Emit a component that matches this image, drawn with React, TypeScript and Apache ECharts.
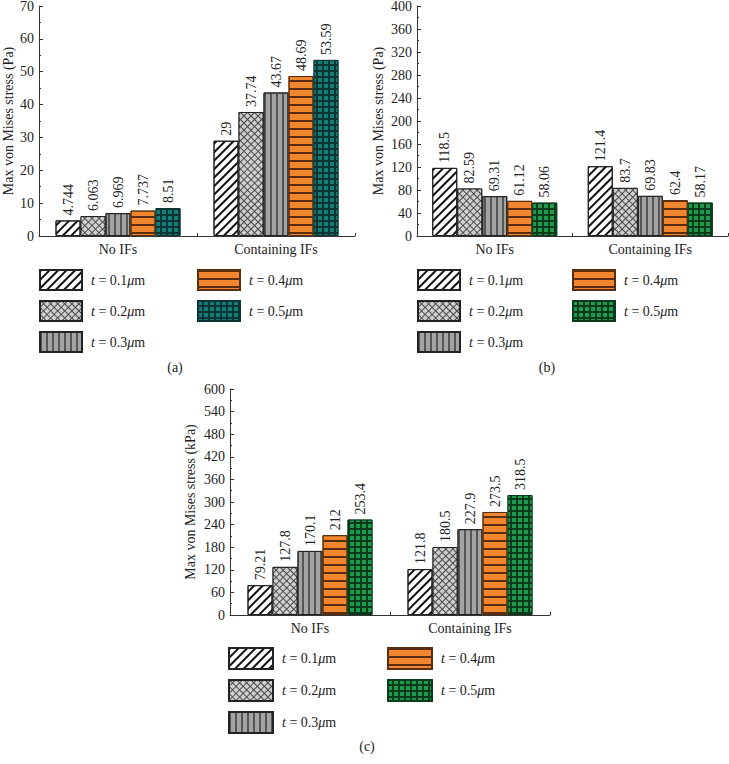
import React, { useEffect, useRef } from "react";
import * as echarts from "echarts";

const categories = ["No IFs", "Containing IFs"];
const thicknesses = ["0.1", "0.2", "0.3", "0.4", "0.5"];

const aNoIFs = [4.744, 6.063, 6.969, 7.737, 8.51];
const aContaining = [29, 37.74, 43.67, 48.69, 53.59];
const bNoIFs = [118.5, 82.59, 69.31, 61.12, 58.06];
const bContaining = [121.4, 83.7, 69.83, 62.4, 58.17];
const cNoIFs = [79.21, 127.8, 170.1, 212, 253.4];
const cContaining = [121.8, 180.5, 227.9, 273.5, 318.5];

const aTicks = { min: 0, max: 70, interval: 10 };
const bTicks = { min: 0, max: 400, interval: 40 };
const cTicks = { min: 0, max: 600, interval: 60 };

const FONT = "Liberation Serif";

function styleFor(i: number, gridColor: string, gridLine: string) {
  const common = { borderColor: "#222", borderWidth: 1 };
  if (i === 0)
    return {
      ...common,
      color: "#ffffff",
      decal: {
        symbol: "rect",
        symbolSize: 1,
        color: "#111",
        dashArrayX: [1, 0],
        dashArrayY: [1.1, 3.1],
        rotation: -Math.PI / 4,
      },
    };
  if (i === 1)
    return {
      ...common,
      color: "#4a4a4a",
      decal: {
        symbol: "rect",
        symbolSize: 1,
        color: "#cfcfcf",
        dashArrayX: [3.2, 1],
        dashArrayY: [3.2, 1],
        rotation: Math.PI / 4,
      },
    };
  if (i === 2)
    return {
      ...common,
      color: "#a3a3a3",
      decal: {
        symbol: "rect",
        symbolSize: 1,
        color: "#555",
        dashArrayX: [1.2, 3.4],
        dashArrayY: [1, 0],
        rotation: 0,
      },
    };
  if (i === 3)
    return {
      borderColor: "#5a2e0c",
      borderWidth: 1,
      color: "#f0862e",
      decal: {
        symbol: "rect",
        symbolSize: 1,
        color: "#5a2e0c",
        dashArrayX: [1, 0],
        dashArrayY: [1.2, 5.6],
        rotation: 0,
      },
    };
  return {
    borderColor: gridLine,
    borderWidth: 1,
    color: gridLine,
    decal: {
      symbol: "rect",
      symbolSize: 1,
      color: gridColor,
      dashArrayX: [3.6, 1.1],
      dashArrayY: [3.6, 1.1],
      rotation: 0,
    },
  };
}

type Cfg = {
  noIFs: number[];
  containing: number[];
  ticks: { min: number; max: number; interval: number };
  yName: string;
  grid: { left: number; top: number; width: number; height: number };
  nameGap: number;
  legendLeft: [number, number];
  legendTop: number;
  legendW: number;
  legendH: number;
  caption: string;
  captionX: number;
  captionY: number;
  gridColor: string;
  gridLine: string;
};

function makeOption(c: Cfg) {
  const textStyle = { fontFamily: FONT, fontSize: 14, color: "#222" };
  const legendCommon = {
    orient: "vertical",
    top: c.legendTop,
    padding: 0,
    itemWidth: c.legendW,
    itemHeight: c.legendH,
    itemGap: 9,
    icon: "rect",
    formatter: (n: string) => `{i|t} = ${n}{i|\u03bc}m`,
    textStyle: {
      ...textStyle,
      padding: [0, 0, 0, 4],
      rich: {
        i: { fontStyle: "italic", fontFamily: FONT, fontSize: 14, color: "#222" },
      },
    },
  };
  return {
    animation: false,
    aria: { enabled: false },
    textStyle: { fontFamily: FONT },
    grid: { ...c.grid, containLabel: false, outerBoundsMode: "none" },
    legend: [
      { ...legendCommon, left: c.legendLeft[0], data: thicknesses.slice(0, 3) },
      { ...legendCommon, left: c.legendLeft[1], data: thicknesses.slice(3) },
    ],
    xAxis: {
      type: "category",
      data: categories,
      axisLine: { lineStyle: { color: "#333", width: 1 } },
      axisTick: { show: true, inside: true, length: 3, lineStyle: { color: "#333" } },
      axisLabel: { ...textStyle, fontSize: 14, margin: 6 },
    },
    yAxis: {
      type: "value",
      min: c.ticks.min,
      max: c.ticks.max,
      interval: c.ticks.interval,
      name: c.yName,
      nameLocation: "middle",
      nameGap: c.nameGap,
      nameMoveOverlap: false,
      nameTextStyle: { ...textStyle, fontSize: 14 },
      axisLine: { show: true, lineStyle: { color: "#333", width: 1 } },
      axisTick: { show: true, inside: true, length: 4, lineStyle: { color: "#333" } },
      minorTick: { show: true, splitNumber: 2, length: 2, lineStyle: { color: "#333" } },
      splitLine: { show: false },
      axisLabel: { ...textStyle, fontSize: 14, margin: 5 },
    },
    series: thicknesses.map((t, i) => ({
      type: "bar",
      name: t,
      data: [c.noIFs[i], c.containing[i]],
      barWidth: 25,
      barGap: "0%",
      itemStyle: styleFor(i, c.gridColor, c.gridLine),
      label: {
        show: true,
        position: "top",
        rotate: 90,
        align: "left",
        verticalAlign: "middle",
        distance: 5,
        fontFamily: FONT,
        fontSize: 14,
        color: "#222",
      },
    })),
    graphic: [
      {
        type: "text",
        x: c.captionX,
        y: c.captionY,
        style: {
          text: c.caption,
          fontFamily: FONT,
          fontSize: 14,
          fill: "#222",
          align: "center",
          verticalAlign: "middle",
        },
      },
    ],
  };
}

const cfgA: Cfg = {
  noIFs: aNoIFs,
  containing: aContaining,
  ticks: aTicks,
  yName: "Max von Mises stress (Pa)",
  grid: { left: 39, top: 6, width: 316, height: 230 },
  nameGap: 24,
  legendLeft: [39, 197],
  legendTop: 269,
  legendW: 42,
  legendH: 20,
  caption: "(a)",
  captionX: 175,
  captionY: 367,
  gridColor: "#127d79",
  gridLine: "#0b3432",
};

const cfgB: Cfg = {
  noIFs: bNoIFs,
  containing: bContaining,
  ticks: bTicks,
  yName: "Max von Mises stress (Pa)",
  grid: { left: 53, top: 6, width: 311, height: 230 },
  nameGap: 32,
  legendLeft: [53, 208],
  legendTop: 269,
  legendW: 42,
  legendH: 20,
  caption: "(b)",
  captionX: 183,
  captionY: 367,
  gridColor: "#1e9a4c",
  gridLine: "#0b3a1c",
};

const cfgC: Cfg = {
  noIFs: cNoIFs,
  containing: cContaining,
  ticks: cTicks,
  yName: "Max von Mises stress (kPa)",
  grid: { left: 60, top: 9, width: 320, height: 226 },
  nameGap: 33,
  legendLeft: [58, 217],
  legendTop: 267,
  legendW: 44,
  legendH: 21,
  caption: "(c)",
  captionX: 197,
  captionY: 366,
  gridColor: "#1e9a4c",
  gridLine: "#0b3a1c",
};

function Chart({ cfg, style }: { cfg: Cfg; style: React.CSSProperties }) {
  const ref = useRef<HTMLDivElement>(null);
  useEffect(() => {
    if (!ref.current) return;
    const chart = echarts.init(ref.current, null, { renderer: "svg" });
    chart.setOption(makeOption(cfg) as any);
    return () => chart.dispose();
  }, [cfg]);
  return <div ref={ref} style={{ position: "absolute", ...style }} />;
}

export default function App() {
  return (
    <div
      style={{
        position: "fixed",
        left: 0,
        top: 0,
        width: 729,
        height: 764,
        background: "#fff",
      }}
    >
      <Chart cfg={cfgA} style={{ left: 0, top: 0, width: 364, height: 380 }} />
      <Chart cfg={cfgB} style={{ left: 364, top: 0, width: 365, height: 380 }} />
      <Chart cfg={cfgC} style={{ left: 170, top: 380, width: 400, height: 384 }} />
    </div>
  );
}
